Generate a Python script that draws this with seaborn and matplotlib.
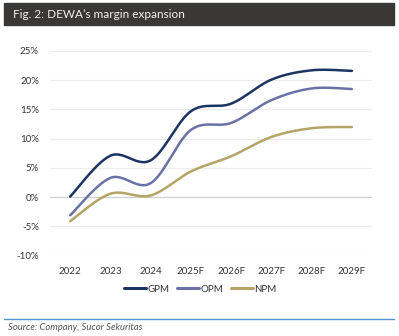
import numpy as np
import pandas as pd
import seaborn as sns
import matplotlib.pyplot as plt
from matplotlib.patches import Rectangle
from matplotlib.lines import Line2D

years = ["2022", "2023", "2024", "2025F", "2026F", "2027F", "2028F", "2029F"]
gpm = [0.1, 7.1, 6.3, 14.7, 16.0, 20.1, 21.7, 21.6]
opm = [-3.1, 3.3, 2.4, 11.5, 12.7, 16.6, 18.6, 18.5]
npm = [-4.1, 0.6, 0.3, 4.4, 7.0, 10.3, 11.8, 12.0]

series_names = ["GPM", "OPM", "NPM"]
series_values = [gpm, opm, npm]
colors = ["#1c3461", "#6a72a5", "#b4a466"]

sns.set_theme(style="white")
plt.rcParams["font.family"] = ["Lato", "DejaVu Sans"]


def smooth(xs, ys, steps=30):
    """Cubic Bezier smoothing through every point (Catmull-Rom style)."""
    xs = np.asarray(xs, float)
    ys = np.asarray(ys, float)
    px = np.concatenate([[xs[0]], xs, [xs[-1]]])
    py = np.concatenate([[ys[0]], ys, [ys[-1]]])
    out_x, out_y = [], []
    t = np.linspace(0, 1, steps)
    for i in range(1, len(px) - 2):
        p0 = np.array([px[i], py[i]])
        p3 = np.array([px[i + 1], py[i + 1]])
        c1 = p0 + (np.array([px[i + 1], py[i + 1]]) - np.array([px[i - 1], py[i - 1]])) / 6
        c2 = p3 - (np.array([px[i + 2], py[i + 2]]) - np.array([px[i], py[i]])) / 6
        b = ((1 - t) ** 3)[:, None] * p0 + (3 * (1 - t) ** 2 * t)[:, None] * c1 \
            + (3 * (1 - t) * t ** 2)[:, None] * c2 + (t ** 3)[:, None] * p3
        if i > 1:
            b = b[1:]
        out_x.extend(b[:, 0])
        out_y.extend(b[:, 1])
    return np.array(out_x), np.array(out_y)


frames = []
for name, vals in zip(series_names, series_values):
    sx, sy = smooth(range(len(years)), vals)
    frames.append(pd.DataFrame({"x": sx, "value": sy, "series": name}))
df = pd.concat(frames, ignore_index=True)

fig = plt.figure(figsize=(3.99, 3.36), dpi=100)
ax = fig.add_axes([50 / 399, (336 - 255.7) / 336, (372 - 50) / 399, (255.7 - 51) / 336])

sns.lineplot(data=df, x="x", y="value", hue="series", palette=colors,
             hue_order=series_names, linewidth=1.8, ax=ax, legend=False, sort=False)

ax.set_xlim(-0.5, len(years) - 0.5)
ax.set_ylim(-10, 25)
yt = np.arange(-10, 26, 5)
ax.set_yticks(yt)
ax.set_yticklabels([f"{v}%" for v in yt])
ax.set_xticks(range(len(years)))
ax.set_xticklabels(years)
ax.tick_params(axis="both", length=0, labelsize=7, colors="#333333")
ax.tick_params(axis="y", pad=8)
ax.tick_params(axis="x", pad=8)
ax.set_xlabel("")
ax.set_ylabel("")
for s in ax.spines.values():
    s.set_visible(False)
for v in yt:
    ax.axhline(v, color="#cfcfcf" if v == 0 else "#ececec", linewidth=0.9, zorder=0)

handles = [Line2D([0], [0], color=c, linewidth=2.2) for c in colors]
fig.legend(handles, series_names, loc="center", bbox_to_anchor=(200 / 399, 1 - 289 / 336),
           ncol=3, frameon=False, fontsize=7, handlelength=2.3, handletextpad=0.1,
           columnspacing=0.8, labelcolor="#333333")

# header banner
fig.patches.append(Rectangle((4 / 399, 1 - 25 / 336), 390 / 399, 22 / 336,
                             transform=fig.transFigure, color="#3a3836", zorder=0))
fig.text(13 / 399, 1 - 14 / 336, "Fig. 2: DEWA\u2019s margin expansion", color="#f2f2f2",
         fontsize=8.5, va="center", ha="left")

# footer rule and source note
fig.add_artist(Line2D([4 / 399, 394 / 399], [1 - 319 / 336, 1 - 319 / 336],
                      transform=fig.transFigure, color="#5b8fd6", linewidth=1.0))
fig.text(8 / 399, 1 - 327.5 / 336, "Source: Company, Sucor Sekuritas", color="#555555",
         fontsize=6.8, style="italic", va="center", ha="left")

fig.savefig("out.png", dpi=100)
